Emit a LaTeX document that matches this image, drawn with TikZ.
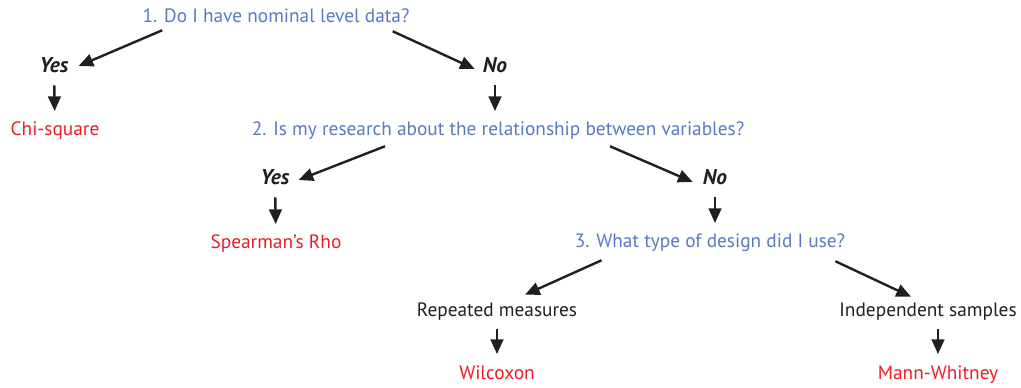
\documentclass[tikz,border=0pt]{standalone}
\usepackage{fontspec}
\setmainfont{PT Sans}
\usetikzlibrary{arrows.meta}
\definecolor{qblue}{RGB}{88,121,196}
\definecolor{tred}{RGB}{237,28,36}
\definecolor{ink}{RGB}{35,31,32}
\tikzset{
  txt/.style={inner sep=0pt, text height=10.5pt, text depth=3pt, font=\fontsize{14.5}{17}\selectfont},
  question/.style={txt, text=qblue},
  answer/.style={txt, text=ink, font=\fontsize{16}{18}\selectfont\bfseries\itshape},
  option/.style={txt, text=ink},
  testname/.style={txt, text=tred},
  arr/.style={-{Triangle[length=11pt, width=9.5pt]}, line width=1.8pt, ink},
  down/.style={arr, shorten <=6pt, shorten >=8pt}
}
\begin{document}
\begin{tikzpicture}[x=0.75pt, y=-0.75pt]
  \useasboundingbox (0,0) rectangle (1021,388);
  % Question 1
  \node[question] (q1) at (276,18) {1. Do I have nominal level data?};
  \node[answer] (yes1) at (54,68) {Yes};
  \node[answer] (no1) at (495,68) {No};
  \node[testname] (chi) at (55,131) {Chi-square};
  % Question 2
  \node[question] (q2) at (498,131) {2. Is my research about the relationship between variables?};
  \node[answer] (yes2) at (275,180) {Yes};
  \node[answer] (no2) at (715,180) {No};
  \node[testname] (rho) at (276,244) {Spearman's Rho};
  % Question 3
  \node[question] (q3) at (710,243) {3. What type of design did I use?};
  \node[option] (rep) at (497,312) {Repeated measures};
  \node[option] (ind) at (928,312) {Independent samples};
  \node[testname] (wil) at (497,374) {Wilcoxon};
  \node[testname] (mw) at (938,374) {Mann-Whitney};
  % Arrows
  \draw[arr] ([shift={(20,3)}]q1.south west) -- ([shift={(10,-2)}]yes1.east);
  \draw[arr] ([shift={(-17,4)}]q1.south east) -- ([shift={(-8,1)}]no1.west);
  \draw[down] (yes1) -- (chi);
  \draw[down] (no1.south) -- (no1.south |- q2.north);
  \draw[arr] ([shift={(-113,6)}]q2.south) -- ([shift={(9,0)}]yes2.east);
  \draw[arr] ([shift={(112,6)}]q2.south) -- ([shift={(-10,2)}]no2.west);
  \draw[down] (yes2) -- (rho);
  \draw[down] (no2.south) -- (no2.south |- q3.north);
  \draw[arr] ([shift={(27,8)}]q3.south west) -- ([shift={(28,-8)}]rep.north);
  \draw[arr] ([shift={(-10,9)}]q3.south east) -- ([shift={(-17,-6)}]ind.north);
  \draw[down] (rep) -- (wil);
  \draw[down] (ind.south -| mw.north) -- (mw);
\end{tikzpicture}
\end{document}
